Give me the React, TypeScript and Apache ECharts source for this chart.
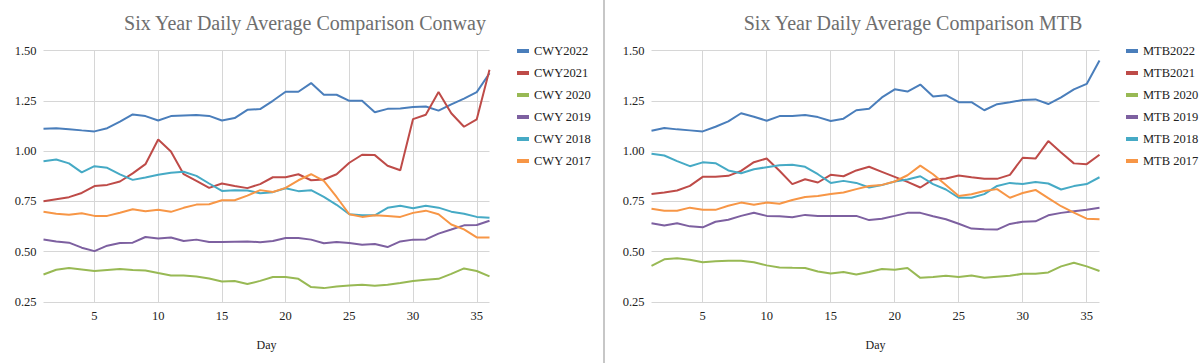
import React, { useEffect, useRef } from "react";
import * as echarts from "echarts";

const days = ["1","2","3","4","5","6","7","8","9","10","11","12","13","14","15","16","17","18","19","20","21","22","23","24","25","26","27","28","29","30","31","32","33","34","35","36"];

const cwyNames = ["CWY2022", "CWY2021", "CWY 2020", "CWY 2019", "CWY 2018", "CWY 2017"];
const mtbNames = ["MTB2022", "MTB2021", "MTB 2020", "MTB 2019", "MTB 2018", "MTB 2017"];

const cwy2022 = [1.111,1.113,1.109,1.103,1.098,1.114,1.147,1.182,1.174,1.152,1.174,1.177,1.179,1.175,1.152,1.164,1.205,1.209,1.25,1.295,1.295,1.338,1.28,1.28,1.25,1.25,1.193,1.21,1.212,1.219,1.222,1.201,1.232,1.261,1.293,1.387];
const cwy2021 = [0.751,0.761,0.771,0.792,0.826,0.832,0.849,0.889,0.935,1.058,0.998,0.885,0.852,0.817,0.839,0.827,0.816,0.836,0.87,0.87,0.885,0.855,0.859,0.885,0.942,0.982,0.98,0.927,0.905,1.159,1.181,1.294,1.188,1.121,1.158,1.404];
const cwy2020 = [0.387,0.41,0.419,0.412,0.404,0.409,0.414,0.409,0.407,0.394,0.382,0.382,0.377,0.367,0.352,0.354,0.339,0.355,0.374,0.374,0.365,0.324,0.319,0.327,0.332,0.336,0.331,0.336,0.344,0.354,0.36,0.365,0.39,0.417,0.404,0.377];
const cwy2019 = [0.561,0.551,0.545,0.52,0.503,0.53,0.543,0.545,0.573,0.566,0.571,0.553,0.56,0.548,0.548,0.55,0.551,0.547,0.553,0.568,0.568,0.56,0.542,0.548,0.543,0.535,0.538,0.523,0.551,0.56,0.561,0.59,0.61,0.631,0.633,0.654];
const cwy2018 = [0.95,0.958,0.939,0.894,0.925,0.917,0.884,0.857,0.869,0.882,0.892,0.897,0.877,0.839,0.802,0.806,0.804,0.791,0.796,0.815,0.801,0.806,0.772,0.733,0.686,0.681,0.681,0.718,0.728,0.716,0.728,0.719,0.699,0.689,0.673,0.669];
const cwy2017 = [0.698,0.689,0.684,0.691,0.678,0.678,0.694,0.711,0.701,0.708,0.698,0.718,0.734,0.736,0.756,0.756,0.779,0.806,0.797,0.817,0.855,0.885,0.852,0.772,0.686,0.673,0.681,0.678,0.673,0.693,0.704,0.686,0.635,0.611,0.571,0.571];

const mtb2022 = [1.101,1.115,1.108,1.103,1.098,1.121,1.148,1.188,1.171,1.151,1.174,1.174,1.179,1.169,1.15,1.161,1.203,1.211,1.267,1.307,1.296,1.331,1.271,1.278,1.243,1.243,1.203,1.233,1.243,1.254,1.257,1.234,1.267,1.307,1.334,1.45];
const mtb2021 = [0.787,0.794,0.804,0.827,0.872,0.872,0.877,0.902,0.945,0.963,0.902,0.836,0.86,0.844,0.882,0.875,0.904,0.922,0.897,0.872,0.847,0.819,0.859,0.864,0.879,0.87,0.862,0.862,0.882,0.967,0.963,1.05,0.993,0.939,0.935,0.982];
const mtb2020 = [0.43,0.462,0.468,0.46,0.448,0.453,0.455,0.455,0.448,0.432,0.422,0.42,0.419,0.402,0.392,0.399,0.387,0.399,0.414,0.41,0.419,0.37,0.374,0.38,0.374,0.382,0.37,0.375,0.38,0.39,0.39,0.397,0.427,0.445,0.427,0.404];
const mtb2019 = [0.641,0.63,0.641,0.626,0.621,0.649,0.659,0.678,0.694,0.678,0.676,0.671,0.683,0.678,0.678,0.678,0.678,0.657,0.664,0.678,0.693,0.693,0.676,0.661,0.639,0.615,0.611,0.61,0.638,0.649,0.651,0.681,0.693,0.701,0.709,0.718];
const mtb2018 = [0.987,0.978,0.95,0.925,0.944,0.94,0.904,0.89,0.91,0.92,0.93,0.932,0.922,0.885,0.842,0.852,0.842,0.819,0.831,0.849,0.859,0.875,0.836,0.809,0.768,0.768,0.786,0.827,0.842,0.836,0.846,0.839,0.809,0.826,0.836,0.87];
const mtb2017 = [0.714,0.704,0.704,0.719,0.709,0.708,0.728,0.744,0.733,0.744,0.738,0.757,0.772,0.777,0.787,0.794,0.811,0.827,0.832,0.849,0.88,0.928,0.885,0.831,0.777,0.786,0.802,0.811,0.768,0.792,0.807,0.766,0.726,0.694,0.664,0.661];

const colors = ["#4A7EBB", "#BE4B48", "#98B954", "#7D60A0", "#46AAC5", "#F79646"];

const FONT = "Liberation Serif";

export default function App() {
  const ref = useRef<HTMLDivElement>(null);
  useEffect(() => {
    if (!ref.current) return;
    const chart = echarts.init(ref.current, undefined, { renderer: "svg" });
    const showFive = (_i: number, v: string) => Number(v) % 5 === 0;
    const mkX = (gi: number) => ({
      type: "category",
      gridIndex: gi,
      data: days,
      boundaryGap: false,
      axisLine: { show: false },
      axisTick: { show: false },
      axisLabel: { interval: showFive, color: "#222", fontFamily: FONT, fontSize: 12.5, margin: 7 },
      splitLine: { show: true, interval: showFive, lineStyle: { color: "#d6d6d6", width: 1 } },
      name: "Day",
      nameLocation: "middle",
      nameGap: 37,
      nameTextStyle: { color: "#222", fontFamily: FONT, fontSize: 12 },
    });
    const mkY = (gi: number) => ({
      type: "value",
      gridIndex: gi,
      min: 0.25,
      max: 1.5,
      interval: 0.25,
      axisLine: { show: false },
      axisTick: { show: false },
      axisLabel: { color: "#222", fontFamily: FONT, fontSize: 12.5, margin: 7, formatter: (v: number) => v.toFixed(2) },
      splitLine: { show: true, lineStyle: { color: "#d6d6d6", width: 1 } },
    });
    const leftData = [cwy2022, cwy2021, cwy2020, cwy2019, cwy2018, cwy2017];
    const rightData = [mtb2022, mtb2021, mtb2020, mtb2019, mtb2018, mtb2017];
    const series: any[] = [];
    cwyNames.forEach((n, i) =>
      series.push({ type: "line", name: n, xAxisIndex: 0, yAxisIndex: 0, data: leftData[i], showSymbol: false, symbol: "none", color: colors[i], lineStyle: { width: 2, color: colors[i] } })
    );
    mtbNames.forEach((n, i) =>
      series.push({ type: "line", name: n, xAxisIndex: 1, yAxisIndex: 1, data: rightData[i], showSymbol: false, symbol: "none", color: colors[i], lineStyle: { width: 2, color: colors[i] } })
    );
    const legendBase = {
      orient: "vertical",
      top: 39,
      itemWidth: 12,
      itemHeight: 4,
      itemGap: 8,
      icon: "rect",
      textStyle: { color: "#222", fontFamily: FONT, fontSize: 12.5, lineHeight: 14 },
    };
    chart.setOption({
      animation: false,
      backgroundColor: "#ffffff",
      title: [
        { text: "Six Year Daily Average Comparison Conway", left: 300, top: 8, textAlign: "center", textStyle: { color: "#6e6e6e", fontFamily: FONT, fontSize: 20, fontWeight: "normal" } },
        { text: "Six Year Daily Average Comparison MTB", left: 908, top: 8, textAlign: "center", textStyle: { color: "#6e6e6e", fontFamily: FONT, fontSize: 20, fontWeight: "normal" } },
      ],
      legend: [
        { ...legendBase, left: 512, data: cwyNames },
        { ...legendBase, left: 1121, data: mtbNames },
      ],
      grid: [
        { left: 43.5, top: 50.5, width: 446, height: 251.5 },
        { left: 651.5, top: 50.5, width: 448, height: 251.5 },
      ],
      xAxis: [mkX(0), mkX(1)],
      yAxis: [mkY(0), mkY(1)],
      series,
      graphic: [
        { type: "line", shape: { x1: 604, y1: 0, x2: 604, y2: 363 }, style: { stroke: "#b5b5b5", lineWidth: 1.5 } },
      ],
    });
    return () => chart.dispose();
  }, []);
  return <div ref={ref} style={{ position: "absolute", left: 0, top: 0, width: 1200, height: 363 }} />;
}
